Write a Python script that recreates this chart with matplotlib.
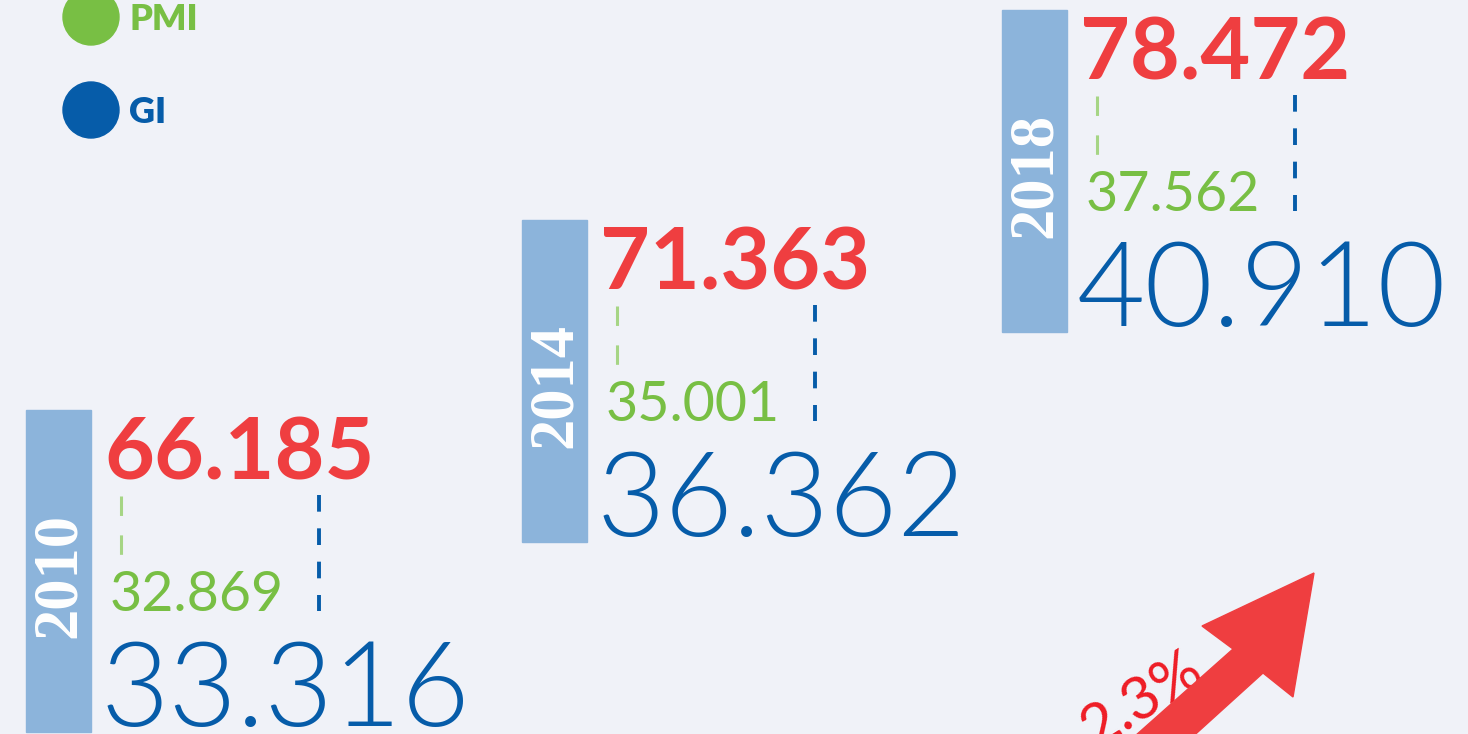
import matplotlib
matplotlib.use("Agg")
import matplotlib.pyplot as plt
from matplotlib.patches import Circle, Rectangle, Polygon
from matplotlib import font_manager

# data
years = ["2010", "2014", "2018"]
totals = [66.185, 71.363, 78.472]
pmi = [32.869, 35.001, 37.562]
gi = [33.316, 36.362, 40.910]
growth_label = "2.3%"
legend_labels = ["PMI", "GI"]

# colours
BG = "#f0f2f8"
RED = "#ef3e40"
GREEN = "#78bf44"
GREEN_LIGHT = "#a6d585"
BLUE = "#065ca9"
BAR = "#8cb4db"

plt.rcParams["lines.scale_dashes"] = False


def lato_file(stem):
    for f in font_manager.fontManager.ttflist:
        if f.fname.split("/")[-1].lower() == stem.lower():
            return f.fname
    return None


light_path = lato_file("Lato-Light.ttf")
if light_path:
    gi_font = font_manager.FontProperties(fname=light_path, size=85)
else:
    gi_font = font_manager.FontProperties(family="Lato", weight=300, size=85)

fig = plt.figure(figsize=(14.68, 7.34), dpi=100, facecolor=BG)
ax = fig.add_axes([0, 0, 1, 1])
ax.set_xlim(0, 1468)
ax.set_ylim(734, 0)
ax.set_facecolor(BG)
ax.axis("off")

# block layout (pixel anchor of each year's bar)
block_x = [26, 522, 1002]
block_y = [410, 220, 10]

for i, year in enumerate(years):
    bx, by = block_x[i], block_y[i]

    ax.add_patch(Rectangle((bx, by), 65, 322, color=BAR, zorder=1))
    ax.text(bx + 34, by + 165, year, rotation=90, ha="center", va="center",
            color="white", fontsize=45, family="Liberation Serif",
            weight="bold", zorder=2)

    ax.text(bx + 78, by + 69, f"{totals[i]:.3f}", ha="left", va="baseline",
            color=RED, fontsize=62, family="Lato", weight="bold")

    ax.plot([bx + 95, bx + 95], [by + 86, by + 145], color=GREEN_LIGHT,
            lw=2.2, dashes=(14, 14), solid_capstyle="butt")
    ax.text(bx + 84, by + 201, f"{pmi[i]:.3f}", ha="left", va="baseline",
            color=GREEN, fontsize=40, family="Lato", weight="normal")

    ax.plot([bx + 293, bx + 293], [by + 85, by + 201], color=BLUE,
            lw=2.8, dashes=(12, 12))
    ax.text(bx + 75, by + 316, f"{gi[i]:.3f}", ha="left", va="baseline",
            color=BLUE, fontproperties=gi_font)

# legend
legend_colors = [GREEN, BLUE]
legend_y = [17, 110]
for lab, col, ly in zip(legend_labels, legend_colors, legend_y):
    ax.add_patch(Circle((91, ly), 28, color=col))
    ax.text(129, ly + 13, lab, ha="left", va="baseline", color=col,
            fontsize=26, family="Lato", weight="heavy")

# growth arrow
arrow = Polygon([(1314, 573), (1202, 626), (1233, 649), (1108, 760),
                 (1167, 760), (1263, 673), (1293, 697)],
                closed=True, color=RED, zorder=3)
ax.add_patch(arrow)
ax.text(1095, 749, growth_label, rotation=32, rotation_mode="anchor",
        ha="left", va="baseline", color="#ee1c25", fontsize=43,
        family="Lato", weight="normal", zorder=2)

fig.savefig("out.png", dpi=100, facecolor=BG)
